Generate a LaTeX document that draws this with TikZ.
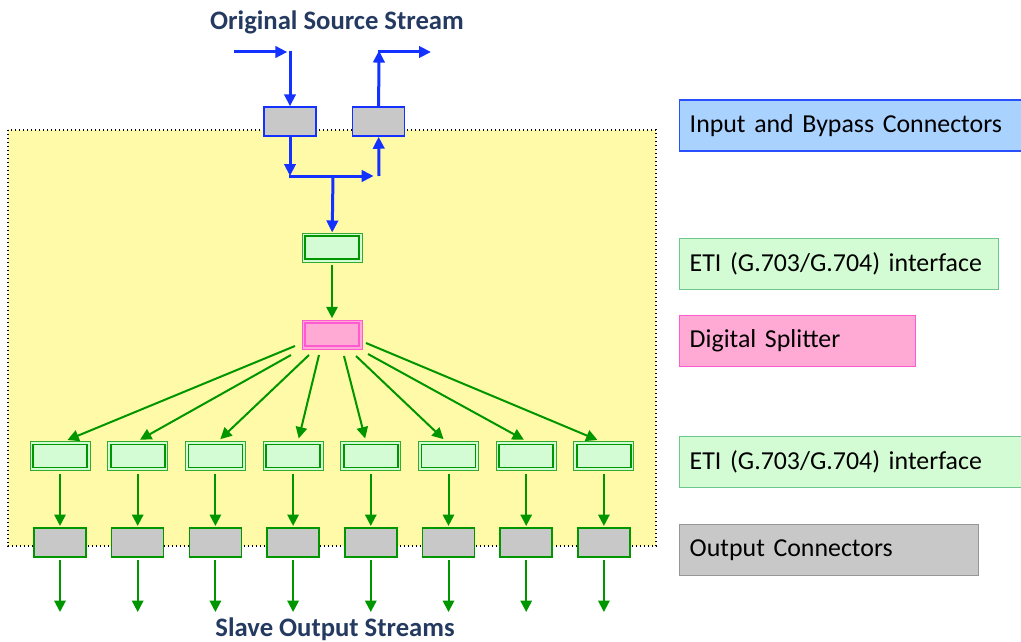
\documentclass[tikz,border=0pt]{standalone}
\usepackage{fontspec}
\setmainfont{Carlito}
\usetikzlibrary{arrows.meta,calc}

\definecolor{srcBlue}{RGB}{20,50,255}
\definecolor{etiGreen}{RGB}{0,150,0}
\definecolor{etiFill}{RGB}{212,252,212}
\definecolor{etiLine}{RGB}{110,200,140}
\definecolor{connGray}{RGB}{200,200,200}
\definecolor{connLine}{RGB}{150,150,150}
\definecolor{splitFill}{RGB}{255,170,212}
\definecolor{splitLine}{RGB}{255,90,210}
\definecolor{inFill}{RGB}{170,210,255}
\definecolor{inLine}{RGB}{40,80,255}
\definecolor{areaYellow}{RGB}{255,250,168}
\definecolor{titleNavy}{RGB}{36,58,96}

\begin{document}
\begin{tikzpicture}[x=0.75pt,y=0.75pt,yscale=-1,xscale=1,
  conn/.style={rectangle,fill=connGray,line width=1.1pt,minimum width=39pt,minimum height=21.75pt,inner sep=0pt},
  eti/.style={rectangle,fill=etiFill,draw=etiGreen!80,line width=0.75pt,minimum width=45pt,minimum height=21.75pt,inner sep=0pt,
    path picture={\draw[etiGreen,line width=1.2pt] ($(path picture bounding box.north west)+(3,-3)$) rectangle ($(path picture bounding box.south east)+(-3,3)$);}},
  splitter/.style={eti,fill=splitFill,draw=splitLine,
    path picture={\draw[splitLine,line width=1.2pt] ($(path picture bounding box.north west)+(3,-3)$) rectangle ($(path picture bounding box.south east)+(-3,3)$);}},
  barrow/.style={draw=srcBlue,line width=2.25pt,-{Triangle[length=9pt,width=8.5pt]}},
  garrow/.style={draw=etiGreen,line width=1.5pt,-{Triangle[length=8.5pt,width=8.5pt]}},
  legend/.style={rectangle,anchor=west,line width=1.1pt,minimum height=38.25pt,inner xsep=7.5pt,align=left,font=\fontsize{19.4}{23}\selectfont},
  caption/.style={text=titleNavy,font=\bfseries\fontsize{20}{24}\selectfont}]
%uncomment if require: \path (0,642); %set diagram left start at 0, and has height of 642
\path[use as bounding box] (0,0) rectangle (1021,642);

%Shape: Rectangle (yellow area)
\draw[dotted, line width=1pt, fill=areaYellow] (8,130) rectangle (656,546);

% Text Node
\node[caption] (title) at (337,22) {Original Source Stream};
\node[caption] (bottom) at (335,629) {Slave Output Streams};

%Input and bypass connectors
\node[conn,draw=srcBlue] (in) at (290,121.5) {};
\node[conn,draw=srcBlue] (byp) at (378.5,121.5) {};
\coordinate (inS) at (234,52);
\coordinate (inC) at (290,52);
\coordinate (bypC) at (379,52);
\coordinate (bypE) at (431,52);
\coordinate (jL) at (290,176);
\coordinate (jM) at (333,176);
\coordinate (jR) at (379,176);

%Straight Lines
\draw[barrow,shorten >=2pt] (inS) -- (inC);
\draw[barrow] ([yshift=-1.1pt]inC) -- (in);
\draw[barrow] (byp) -- ([yshift=-1.1pt]bypC);
\draw[barrow] ([xshift=-1.1pt]bypC) -- (bypE);
\draw[barrow] (in) -- (jL);
\draw[barrow,shorten >=4pt] ([xshift=-1.1pt]jL) -- (jR);
\draw[barrow] (jR) -- (byp);

%ETI and splitter
\node[eti] (eti) at (332,247.5) {};
\node[splitter] (split) at (332,334.5) {};
\draw[barrow] (jM) -- (eti);
\draw[garrow,shorten <=2pt,shorten >=1pt] (eti) -- (split);

%Output branches
\foreach \i/\sx/\sy/\ex in {0/295/346/5,1/291/355/0,2/309/355/3,3/319/355/5,4/344/356/-5,5/356/356/-3,6/368/354/0,7/366/343/-4}{
  \node[eti] (eti\i) at (60+77.7*\i,456) {};
  \node[conn,draw=etiGreen] (out\i) at (60+77.7*\i,542.5) {};
  \coordinate (fs\i) at (\sx,\sy);
  \coordinate (end\i) at (60+77.7*\i,612);
  \draw[garrow,shorten >=2pt] (fs\i) -- ($(eti\i.north)+(\ex,0)$);
  \draw[garrow,shorten <=2pt,shorten >=1pt] (eti\i) -- (out\i);
  \draw[garrow,shorten <=2pt] (out\i) -- (end\i);
}

%Legend
\node[legend,fill=inFill,draw=inLine,text width=241.5pt] (lgIn) at (679,125.5) {Input and Bypass Connectors};
\node[legend,fill=etiFill,draw=etiLine,text width=224.25pt] (lgEtiA) at (679,264) {ETI (G.703/G.704) interface};
\node[legend,fill=splitFill,draw=splitLine,text width=162pt] (lgSplit) at (679,341) {Digital Splitter};
\node[legend,fill=etiFill,draw=etiLine,text width=241.5pt] (lgEtiB) at (679,462) {ETI (G.703/G.704) interface};
\node[legend,fill=connGray,draw=connLine,text width=209.25pt] (lgOut) at (679,550) {Output Connectors};

\end{tikzpicture}
\end{document}
